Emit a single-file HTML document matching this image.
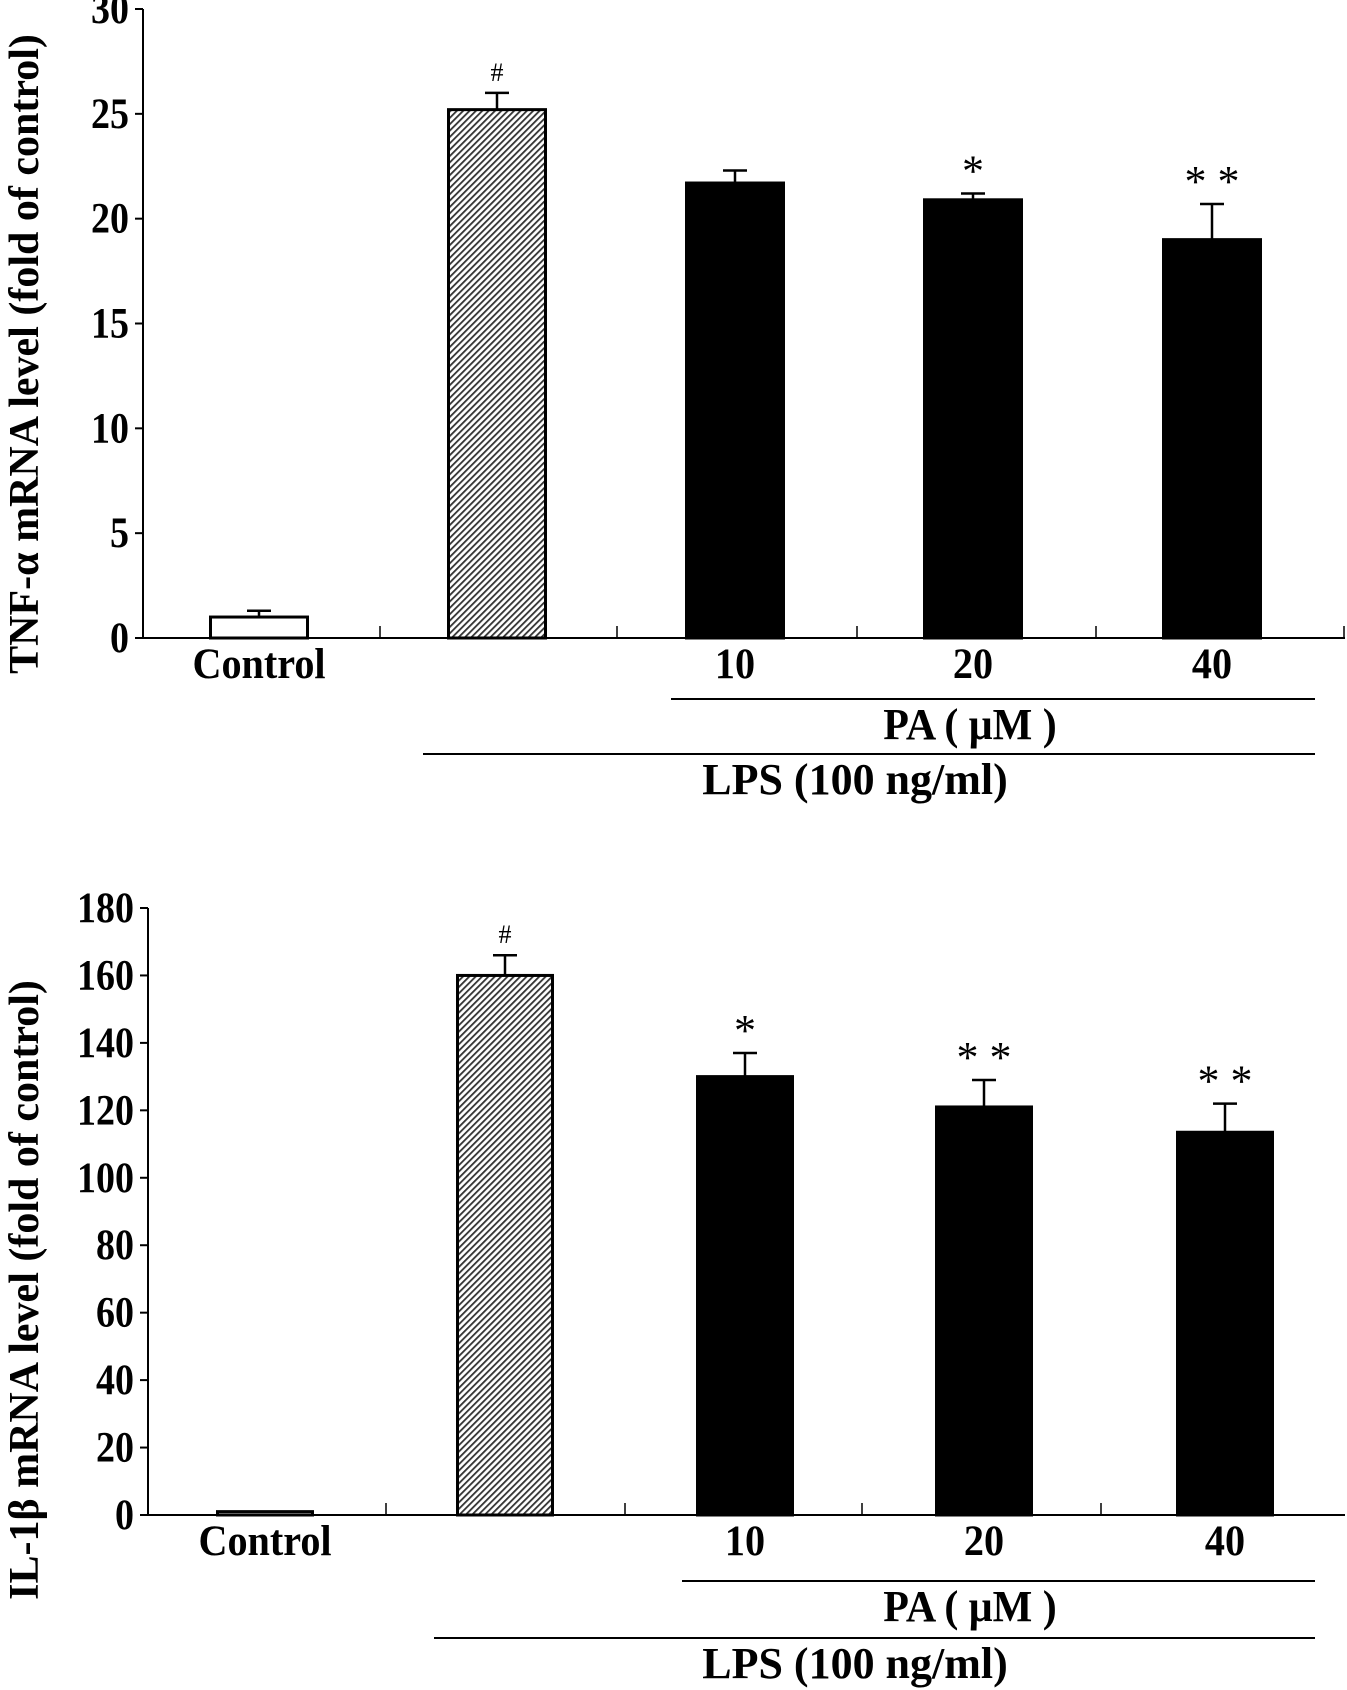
<!DOCTYPE html>
<html><head><meta charset="utf-8"><style>
body{margin:0;background:#fff}
svg{display:block;font-family:"Liberation Serif",serif;font-weight:bold}
</style></head><body>
<svg id="c" width="1347" height="1690" viewBox="0 0 1347 1690" xmlns="http://www.w3.org/2000/svg">
<defs>
<pattern id="hatch" width="4.5" height="4.5" patternUnits="userSpaceOnUse" patternTransform="rotate(-45)">
<rect width="4.5" height="4.5" fill="#fff"/><rect width="4.5" height="1.8" fill="#333"/>
</pattern>
</defs>
</svg>
<script>
const categories = ["Control","LPS","10","20","40"];
const tnfValues = [1.0, 25.2, 21.7, 20.9, 19.0];
const tnfErrors = [0.3, 0.8, 0.6, 0.3, 1.7];
const tnfMarks = ["", "#", "", "*", "* *"];
const tnfTicks = [0,5,10,15,20,25,30];
const il1Values = [1.0, 160, 130, 121, 113.5];
const il1Errors = [0, 6, 7, 8, 8.5];
const il1Marks = ["", "#", "*", "* *", "* *"];
const il1Ticks = [0,20,40,60,80,100,120,140,160,180];

const svg = document.getElementById('c');
const NS = 'http://www.w3.org/2000/svg';
function mk(tag, attrs, text){const e=document.createElementNS(NS,tag);for(const k in attrs)e.setAttribute(k,attrs[k]);if(text!==undefined)e.textContent=text;svg.appendChild(e);return e;}

function drawChart(cfg){
  const y = v => cfg.y0 - (v - 0) / cfg.max * (cfg.y0 - cfg.yTop);
  let e;
  e = mk('line',{x1:cfg.ax,y1:cfg.yTop,x2:cfg.ax,y2:cfg.y0,stroke:'#000','stroke-width':2});
   
  e = mk('line',{x1:cfg.ax,y1:cfg.y0,x2:1345,y2:cfg.y0,stroke:'#000','stroke-width':2});
   
  cfg.ticks.forEach(t=>{
    mk('line',{x1:cfg.ax-8,y1:y(t),x2:cfg.ax,y2:y(t),stroke:'#000','stroke-width':2});
    e = mk('text',{x:0,y:0,'text-anchor':'end','font-size':38,transform:`translate(${cfg.ax-14},${y(t)+14}) scale(1,1.15)`},String(t));
     
  });
  cfg.seps.forEach(s=>{ mk('line',{x1:s,y1:cfg.y0-12,x2:s,y2:cfg.y0,stroke:'#000','stroke-width':1.5}); });
  const bw = cfg.bw;
  cfg.values.forEach((v,i)=>{
    const cx = cfg.centers[i];
    const top = y(v);
    const fill = i===0 ? '#fff' : (i===1 ? 'url(#hatch)' : '#000');
    e = mk('rect',{x:cx-bw/2,y:top,width:bw,height:cfg.y0-top,fill:fill,stroke:'#000','stroke-width':3});
    
    
    const err = cfg.errors[i];
    if(err>0){
      const ye = y(v+err);
      mk('line',{x1:cx,y1:top,x2:cx,y2:ye,stroke:'#000','stroke-width':2.5});
      mk('line',{x1:cx-12,y1:ye,x2:cx+12,y2:ye,stroke:'#000','stroke-width':2.5});
    }
    if(cfg.marks[i]){
      const big = cfg.marks[i] !== '#';
      e = mk('text',{x:cx,y:y(v+err)-(big?8:12),'text-anchor':'middle','font-size':big?44:26,'font-weight':'normal'},cfg.marks[i]);
       
    }
    if(i!==1){
      e = mk('text',{x:0,y:0,'text-anchor':'middle','font-size':39,transform:`translate(${cx},${cfg.y0+40}) scale(1.03,1.12)`},categories[i]);
       
    }
  });
  e = mk('line',{x1:cfg.paL,y1:cfg.paY,x2:1315,y2:cfg.paY,stroke:'#000','stroke-width':2});
   
  e = mk('text',{x:0,y:0,'text-anchor':'middle','font-size':40,transform:`translate(970,${cfg.paY+40}) scale(1.05,1.12)`},'PA ( μM )');
   
  e = mk('line',{x1:cfg.lpsL,y1:cfg.lpsY,x2:1315,y2:cfg.lpsY,stroke:'#000','stroke-width':2});
   
  e = mk('text',{x:0,y:0,'text-anchor':'middle','font-size':40,transform:`translate(855,${cfg.lpsY+40}) scale(1.1,1.12)`},'LPS (100 ng/ml)');
   
  e = mk('text',{x:0,y:0,'text-anchor':'middle','font-size':42,transform:`translate(38,${cfg.titleY}) rotate(-90)`},cfg.title);
   
}

drawChart({id:'tnf',ax:143,y0:638,yTop:9,max:30,ticks:tnfTicks,values:tnfValues,errors:tnfErrors,marks:tnfMarks,
  centers:[259,497,735,973,1212],bw:97,seps:[380,617,857,1096,1344],paL:671,paY:699,lpsL:423,lpsY:754,
  titleY:354,title:'TNF-α  mRNA level  (fold of control)'});
drawChart({id:'il1b',ax:148,y0:1515,yTop:908,max:180,ticks:il1Ticks,values:il1Values,errors:il1Errors,marks:il1Marks,
  centers:[265,505,745,984,1225],bw:95,seps:[386,625,862,1101],paL:682,paY:1581,lpsL:434,lpsY:1638,
  titleY:1290,title:'IL-1β  mRNA level  (fold of control)'});
</script>
</body></html>
